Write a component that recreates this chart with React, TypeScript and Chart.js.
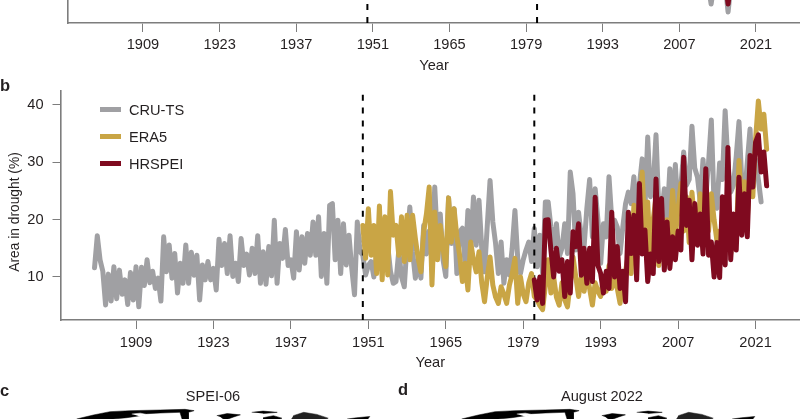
import { useEffect, useRef } from "react";
import { Chart, registerables } from "chart.js";

Chart.register(...registerables);

const FONT = "'Liberation Sans', Arial, sans-serif";
const TEXT = "#231f20";
const AXIS = "#7d7d7d";
const GREY = "#a0a0a3";
const GOLD = "#c9a545";
const RED = "#7f0a1f";

const yearTicks = [1909, 1923, 1937, 1951, 1965, 1979, 1993, 2007, 2021];
const areaTicks = [10, 20, 30, 40];
const droughtLines = [1950, 1981];
const legendNames = ["CRU-TS", "ERA5", "HRSPEI"];
const legendColors = [GREY, GOLD, RED];

// half-yearly readings, first value is at the start year
const cruStart = 1901.5;
const cruArea = [
  11.6,
  17.2, 13, 11, 5.1, 10.5, 5.8, 11.8, 6.2, 11.2, 7, 9.5, 5.2, 10.8, 6, 11.8, 4.8, 11.7, 8.5, 13, 9,
  11, 8, 9.8, 5.8, 17, 10.9, 15.6, 9.8, 14.1, 7.2, 12.4, 8.9, 15.6, 8.9, 14.3, 10.3, 13.8, 6, 12.1, 9.5,
  12.7, 9.5, 11.5, 7.75, 16.6, 12, 15.85, 10.6, 17.2, 10.1, 12.4, 9.2, 16.7, 12, 14, 10.35, 15, 10.6, 17.2, 8.9,
  14.4, 8.75, 15.3, 10.2, 19.9, 8.9, 15.85, 13.25, 18.3, 12, 13, 9.8, 17.9, 11.2, 17, 12.4, 17.6, 13.8, 19.6, 13.8,
  20.5, 10.1, 17.6, 8.9, 22.5, 22.8, 13, 19.9, 10.6, 19.3, 12.1, 17.3, 11.5, 6.9, 19.6, 14.4, 13.8, 10.35, 12, 12.7,
  10, 14, 11.5, 15, 12.5, 15.5, 11, 8.9, 9.2, 14.6, 10, 8.3, 16, 22.2, 14.4, 9.8, 13, 9.8, 19, 14,
  18, 13, 25.7, 16.1, 21, 13, 10.1, 23.8, 15.85, 21.9, 10.6, 17.9, 18.5, 12.1, 21.6, 15, 23.95, 15.55, 23.4, 15,
  10.9, 19, 26.85, 19.6, 15.85, 10.6, 16.1, 8.9, 13, 10.35, 15, 21.6, 13.25, 10.6, 13, 14.7, 16.1, 12.7, 18.45, 11.8,
  17.3, 10.6, 23.1, 23.1, 18.7, 15.3, 19.3, 13.5, 15, 19.3, 14.1, 28.3, 24.5, 14.7, 21.3, 17, 15.3, 22, 27, 17,
  25.4, 20, 12.4, 19.3, 17, 27.5, 20, 19.9, 18.7, 14.1, 18.7, 22.8, 24.8, 22.8, 27.5, 21, 26, 30.6, 22, 34.4,
  24, 26, 34.8, 22, 20.5, 25.4, 20, 28.9, 22, 29.6, 21, 26, 31.8, 26, 27, 36.3, 29, 27.4, 23, 30.5,
  24, 30, 37.4, 22.5, 22, 29.9, 27, 39, 30, 24.8, 26, 31, 37.1, 26.8, 24, 30, 35.8, 25.7, 30.5, 27,
  23.1,
];

const eraStart = 1950;
const eraArea = [
  19, 13.25, 21.9, 13.8, 19, 10.6, 22.4, 9.5, 20.5, 10.35, 24.9, 17.3, 19, 13.8, 20.5, 12.7, 20.75, 13, 20.75, 16.7,
  13.25, 10.9, 17.9, 21, 25.7, 8.6, 21.35, 13, 19, 15, 11.8, 23.8, 16.1, 21.9, 17, 13.8, 9.2, 12.4, 7.75, 16.1,
  13, 10.9, 14.4, 9, 5.7, 10, 13.5, 8.6, 6.5, 5.4, 8.3, 7, 5.4, 8.6, 10.5, 13.25, 5.4, 10, 7, 5.7,
  9, 10.6, 6.6, 6, 5, 4.3, 8.5, 13, 7.2, 10, 6.5, 5.1, 9, 6, 4.8, 9, 13.5, 10, 6.6, 10,
  7.5, 10.5, 8, 5.1, 9, 7.5, 6.6, 10, 7.5, 12, 8, 10, 8, 5.4, 9, 11, 14, 10.6, 22.5, 16,
  20, 28.3, 18, 23.1, 13, 20, 24, 12, 18, 14, 20, 15.85, 25.1, 17, 22, 26.3, 18, 24, 16, 24.8,
  19, 16, 24.5, 17, 22, 18, 24.5, 20, 16.4, 18, 14, 22, 24, 14, 20, 16, 30.3, 22, 26.6, 20,
  29, 24, 34, 40.7, 35.8, 38.4, 32.3,
];

const hrStart = 1981;
const hrArea = [
  9.5, 6, 10, 5.4, 19.9, 20, 14.7, 10, 15, 11, 13, 6.6, 12.7, 7.2, 17.9, 15.3, 19.3, 10.3, 15, 8.9,
  15, 9.2, 23.9, 12, 10.6, 7.2, 11, 8, 21.3, 10, 15.3, 8, 11, 5.7, 21.3, 14.1, 20.75, 9.5, 26.3, 14,
  18.2, 9.2, 14, 10.6, 27.1, 12.7, 23.7, 11.2, 19.6, 11.5, 17, 13, 18, 14.7, 30.9, 19, 23.4, 13, 22.8, 15.55,
  21, 14, 28.9, 13.8, 16.1, 10, 16, 9.9, 24, 12.1, 32.6, 13, 21, 14.7, 27.4, 17.3, 24.5, 17, 31.2, 25.7,
  33.5, 34.8, 28.3, 31.8, 25.9,
];

// panel a only shows the bottom of its series, the rest is cropped away
const topCruYears = [2012.3, 2012.8, 2013.3, 2015.4, 2015.9, 2016.4];
const topCruArea = [9, 5.8, 9, 9, 4.4, 9];
const topHrYears = [2015.5, 2015.9, 2016.3];
const topHrArea = [9, 5.8, 9];

// maps c and d are cut by the picture edge, these are the tops of the land masses
const landAmericaLon = [-162.4, -144.7, -127, -105.9, -74, -47.6, -38, -44, -44, -50.8, -53, -74, -87.5, -95, -109, -123.5];
const landAmericaLat = [60, 69.6, 77.6, 80, 81.6, 83.2, 80, 76, 60, 60, 76, 74.4, 72.8, 68, 63.2, 60];
const landIcelandLon = [-14, -3, 11, 4, -2, -7, -10];
const landIcelandLat = [68, 73, 70, 65, 60, 60, 65];
const landSvalbardLon = [23, 35, 50, 35];
const landSvalbardLat = [76, 79, 76, 73];
const landScandiaLon = [35, 46, 55, 53, 35];
const landScandiaLat = [63, 68, 62, 60, 60];
const landRussiaLon = [67, 78, 92, 104, 102, 65];
const landRussiaLat = [68, 76, 71, 62, 60, 60];
const landChukotLon = [124, 134, 148, 146];
const landChukotLat = [60, 63, 66, 60];
// inland water, left white
const lakeLon = [-104, -95, -88, -95];
const lakeLat = [72, 74, 71, 66];

const zip = (xs: number[], ys: number[]) => xs.map((x, i) => ({ x, y: ys[i] }));
const halfYears = (start: number, values: number[]) => values.map((y, i) => ({ x: start + i * 0.5, y }));

const seriesLine = (data: { x: number; y: number }[], color: string) => ({
  data,
  borderColor: color,
  borderWidth: 5,
  pointRadius: 0,
  borderCapStyle: "round" as const,
  borderJoinStyle: "round" as const,
  tension: 0,
});

const dashLine = (year: number, min: number, max: number) => ({
  data: [
    { x: year, y: min },
    { x: year, y: max },
  ],
  borderColor: "#000",
  borderWidth: 2,
  pointRadius: 0,
  borderDash: [6, 6.9],
});

const yearScale = (min: number, max: number, height: number, tickPad: number) => ({
  type: "linear" as const,
  min,
  max,
  afterBuildTicks: (s: any) => {
    s.ticks = yearTicks.map((value) => ({ value }));
  },
  afterFit: (s: any) => {
    s.height = height;
  },
  grid: { drawOnChartArea: false, tickLength: 9, tickColor: AXIS, tickWidth: 1 },
  border: { color: AXIS, width: 1.6 },
  ticks: {
    color: TEXT,
    font: { family: FONT, size: 14.6 },
    padding: tickPad,
    maxRotation: 0,
    autoSkip: false,
    callback: (v: any) => String(v),
  },
  title: {
    display: true,
    text: "Year",
    color: TEXT,
    font: { family: FONT, size: 14.6 },
    padding: { top: 0, bottom: 0 },
  },
});

const baseOptions = {
  animation: false as const,
  responsive: false,
  maintainAspectRatio: false,
  plugins: { legend: { display: false }, tooltip: { enabled: false } },
  elements: { line: { fill: false } },
};

const useChart = (config: () => any) => {
  const ref = useRef<HTMLCanvasElement>(null);
  useEffect(() => {
    if (!ref.current) return;
    const chart = new Chart(ref.current, config());
    return () => chart.destroy();
  }, []);
  return ref;
};

// Chart.js paints the first dataset last, so the top series comes first
const TopPanel = () => {
  const ref = useChart(() => {
    const min = 2.5;
    const max = 6.5;
    return {
      type: "line",
      data: {
        datasets: [
          seriesLine(zip(topHrYears, topHrArea), RED),
          ...droughtLines.map((y) => dashLine(y, min, max)),
          seriesLine(zip(topCruYears, topCruArea), GREY),
        ],
      },
      options: {
        ...baseOptions,
        layout: { padding: 0 },
        scales: {
          x: yearScale(1895.3, 2029.04, 52, 4),
          y: {
            min,
            max,
            afterFit: (s: any) => {
              s.width = 68;
            },
            grid: { drawOnChartArea: false, drawTicks: false },
            border: { color: AXIS, width: 1.6 },
            ticks: { display: false },
          },
        },
      },
    };
  });
  return <canvas ref={ref} width={800} height={75} style={{ position: "absolute", left: 0, top: 0 }} />;
};

const MainPanel = () => {
  const ref = useChart(() => {
    const min = 2.5;
    const max = 42.44;
    return {
      type: "line",
      data: {
        datasets: [
          seriesLine(halfYears(hrStart, hrArea), RED),
          seriesLine(halfYears(eraStart, eraArea), GOLD),
          ...droughtLines.map((y) => dashLine(y, min, max)),
          seriesLine(halfYears(cruStart, cruArea), GREY),
        ],
      },
      options: {
        ...baseOptions,
        layout: { padding: { top: 21 } },
        scales: {
          x: yearScale(1895.35, 2029.03, 52, 5),
          y: {
            min,
            max,
            afterBuildTicks: (s: any) => {
              s.ticks = areaTicks.map((value) => ({ value }));
            },
            afterFit: (s: any) => {
              s.width = 60.5;
            },
            grid: { drawOnChartArea: false, tickLength: 8, tickColor: AXIS, tickWidth: 1 },
            border: { color: AXIS, width: 1.6 },
            ticks: { color: TEXT, font: { family: FONT, size: 14.6 }, padding: 9 },
          },
        },
      },
    };
  });
  return <canvas ref={ref} width={800} height={302} style={{ position: "absolute", left: 0, top: 70 }} />;
};

const MapPanel = ({ left }: { left: number }) => {
  const land = [
    [lakeLon, lakeLat, "#fff"],
    [landAmericaLon, landAmericaLat, "#000"],
    [landIcelandLon, landIcelandLat, "#000"],
    [landSvalbardLon, landSvalbardLat, "#000"],
    [landScandiaLon, landScandiaLat, "#000"],
    [landRussiaLon, landRussiaLat, "#222"],
    [landChukotLon, landChukotLat, "#000"],
  ] as [number[], number[], string][];
  const ref = useChart(() => ({
    type: "line",
    data: {
      datasets: land.map(([lon, lat, color]) => ({
        data: zip(lon, lat),
        borderColor: color,
        backgroundColor: color,
        borderWidth: 0.5,
        pointRadius: 0,
        fill: "shape",
      })),
    },
    options: {
      ...baseOptions,
      elements: {},
      layout: { padding: 0 },
      scales: {
        x: { type: "linear", min: -180, max: 180, display: false },
        y: { min: 60, max: 117.6, display: false },
      },
    },
  }));
  return <canvas ref={ref} width={340} height={24} style={{ position: "absolute", left, top: 395 }} />;
};

const Label = ({ x, y, text, bold, center }: { x: number; y: number; text: string; bold?: boolean; center?: boolean }) => (
  <div
    style={{
      position: "absolute",
      left: x,
      top: y,
      transform: center ? "translate(-50%, -50%)" : "translateY(-50%)",
      font: `${bold ? "bold 16.5px" : "14.6px"} ${FONT}`,
      color: TEXT,
      whiteSpace: "nowrap",
    }}
  >
    {text}
  </div>
);

export default function App() {
  return (
    <div style={{ position: "fixed", left: 0, top: 0, width: 800, height: 419, overflow: "hidden", background: "#fff" }}>
      <TopPanel />
      <MainPanel />
      <MapPanel left={60} />
      <MapPanel left={445} />
      <Label x={0} y={85} text="b" bold />
      <Label x={0} y={390} text="c" bold />
      <Label x={398} y={389} text="d" bold />
      <Label x={213} y={396} text="SPEI-06" center />
      <Label x={602} y={396} text="August 2022" center />
      <div
        style={{
          position: "absolute",
          left: 14,
          top: 212,
          transform: "translate(-50%, -50%) rotate(-90deg)",
          font: `13.8px ${FONT}`,
          color: TEXT,
          whiteSpace: "nowrap",
        }}
      >
        Area in drought (%)
      </div>
      {legendNames.map((name, i) => (
        <div key={name}>
          <div
            style={{
              position: "absolute",
              left: 100,
              top: 107 + i * 27,
              width: 21,
              height: 5,
              background: legendColors[i],
            }}
          />
          <Label x={129} y={109.5 + i * 27} text={name} />
        </div>
      ))}
    </div>
  );
}
